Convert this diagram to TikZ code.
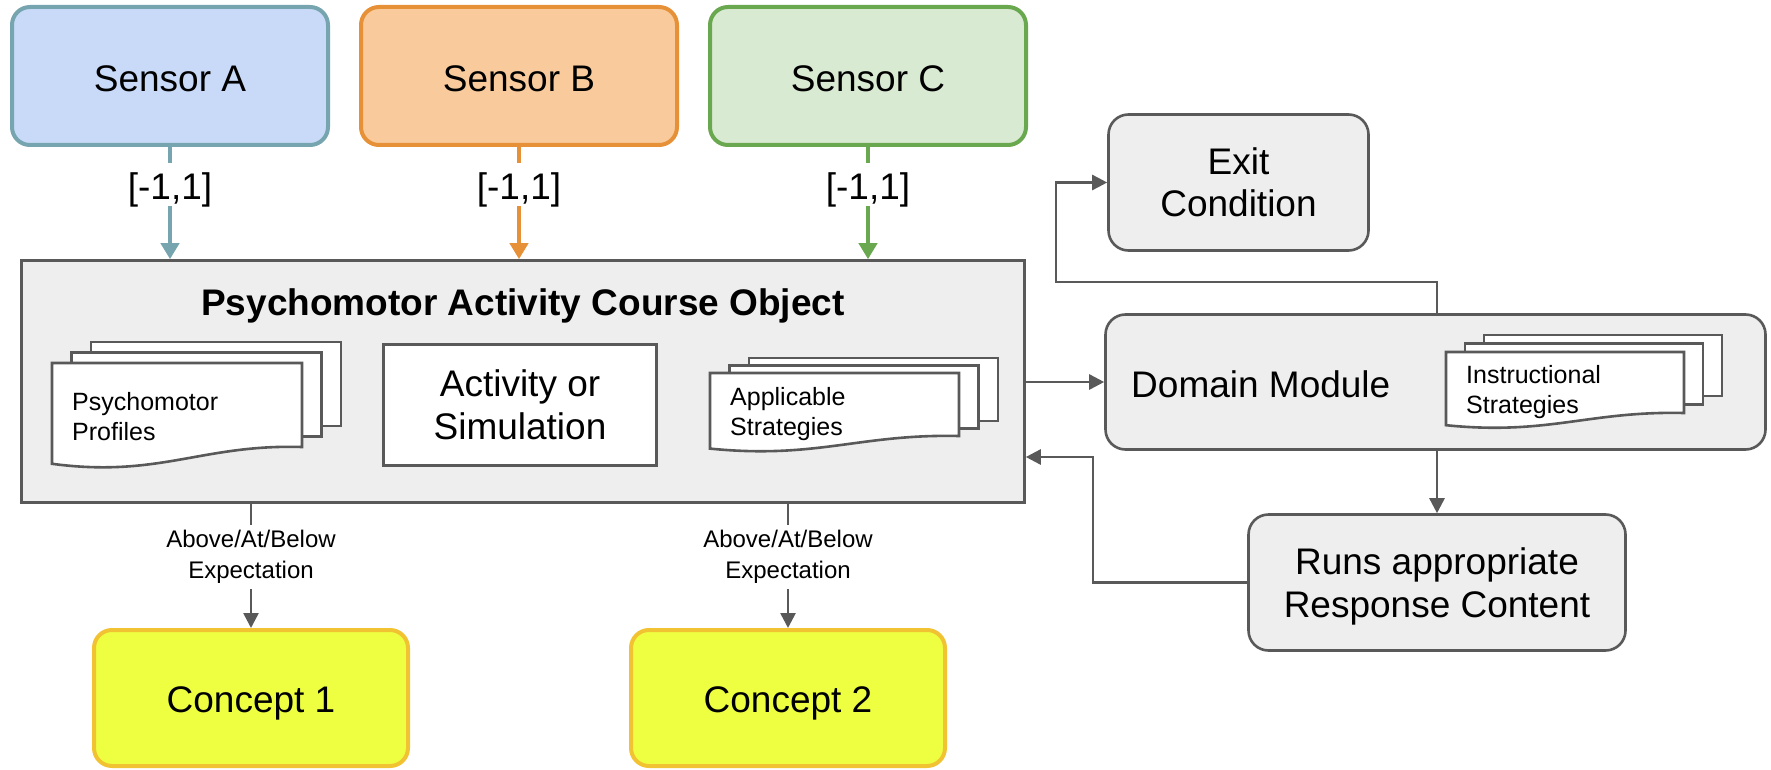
\documentclass[tikz,border=0pt]{standalone}
\usepackage{fontspec}
\setmainfont{Liberation Sans}
\usetikzlibrary{arrows.meta}
\definecolor{sAfill}{HTML}{C9DAF8}
\definecolor{sAline}{HTML}{76A5AF}
\definecolor{sBfill}{HTML}{F9CB9C}
\definecolor{sBline}{HTML}{E69138}
\definecolor{sCfill}{HTML}{D9EAD3}
\definecolor{sCline}{HTML}{6AA84F}
\definecolor{cfill}{HTML}{EEFF41}
\definecolor{cline}{HTML}{F1C232}
\definecolor{gfill}{HTML}{EEEEEE}
\definecolor{gline}{HTML}{595959}
\newcommand\fbig{\fontsize{37}{42.5}\selectfont}
\newcommand\fsmall{\fontsize{25}{30}\selectfont}
\newcommand\flab{\fontsize{24}{31}\selectfont}
% document stack: x0, y0 (front page top-left), w, h, dx, dy
\newcommand\docstack[6]{%
  \draw[docpage] ({#1+2*#5},{#2+2*#6}) rectangle ({#1+2*#5+#3},{#2+2*#6+#4});
  \draw[docpage] ({#1+#5},{#2+#6}) rectangle ({#1+#5+#3},{#2+#6+#4});
  \draw[docpage] (#1,#2) -- ({#1+#3},#2) -- ({#1+#3},{#2+#4})
     .. controls ({#1+0.6*#3},{#2+0.964*#4}) and ({#1+0.43*#3},{#2+1.37*#4}) .. (#1,{#2+1.2*#4}) -- cycle;
}
\tikzset{
  sensor/.style={rounded corners=18pt, line width=4pt, minimum width=316pt, minimum height=138pt, font=\fbig, inner sep=0pt, text height=32pt, text depth=0pt},
  concept/.style={rounded corners=18pt, line width=4pt, fill=cfill, draw=cline, minimum width=314pt, minimum height=136pt, font=\fbig, inner sep=0pt, text height=28pt, text depth=0pt},
  gbox/.style={draw=gline, fill=gfill, line width=2.6pt, inner sep=0pt},
  rbox/.style={gbox, rounded corners=20pt, font=\fbig, align=center},
  wbox/.style={draw=gline, fill=white, line width=2.6pt, inner sep=0pt},
  docpage/.style={draw=gline, fill=white, line width=2.6pt, line join=miter},
  dtext/.style={font=\fsmall, align=left, inner sep=0pt},
  carrow/.style={line width=4pt, -{Triangle[length=16pt,width=18pt]}},
  garrow/.style={draw=gline, line width=2.6pt, -{Triangle[length=15pt,width=15pt]}},
  vlab/.style={fill=white, inner sep=0pt, text height=37pt, text depth=6pt, anchor=base, font=\fbig},
  elab/.style={fill=white, inner xsep=2pt, inner ysep=5pt, font=\flab, align=center},
}
\begin{document}
\begin{tikzpicture}[x=1pt,y=-1pt]
\useasboundingbox (0,0) rectangle (1771,770);

% sensors
\node[sensor, fill=sAfill, draw=sAline] (sA) at (170,76) {Sensor A};
\node[sensor, fill=sBfill, draw=sBline] (sB) at (519,76) {Sensor B};
\node[sensor, fill=sCfill, draw=sCline] (sC) at (868,76) {Sensor C};

% course object
\node[gbox, minimum width=1003pt, minimum height=242pt] (pb) at (523,381.5) {};
\node[font=\fbig\bfseries, anchor=base, inner sep=0pt] (ttl) at (523,315) {Psychomotor Activity Course Object};

\docstack{52}{363}{250}{84}{19.5}{-10.5}
\node[dtext, anchor=base west] (tP) at (72,440) {Psychomotor\\Profiles};

\node[wbox, minimum width=273pt, minimum height=121pt, font=\fbig, align=center] (act) at (520,405) {Activity or\\Simulation};

\docstack{710}{373}{249}{63}{19.5}{-7.5}
\node[dtext, anchor=base west] (tA) at (730,435) {Applicable\\Strategies};

% right side
\node[rbox, minimum width=260pt, minimum height=136pt] (ex) at (1238.5,182.5) {Exit\\Condition};
\node[gbox, rounded corners=20pt, minimum width=660pt, minimum height=135pt] (dm) at (1435.5,382) {};
\node[font=\fbig, anchor=base west, inner sep=0pt] (dmt) at (1131,397) {Domain Module};
\docstack{1446}{352}{238}{61}{19}{-8.5}
\node[dtext, anchor=base west] (tI) at (1466,413) {Instructional\\Strategies};
\node[rbox, minimum width=377pt, minimum height=136pt, text depth=0pt] (ru) at (1437,582.5) {Runs appropriate\\Response Content};

% concepts
\node[concept] (c1) at (251,698) {Concept 1};
\node[concept] (c2) at (788,698) {Concept 2};

% sensor arrows
\draw[carrow, draw=sAline] (sA.south) -- (sA.south |- pb.north);
\draw[carrow, draw=sBline] (sB.south) -- (sB.south |- pb.north);
\draw[carrow, draw=sCline] (sC.south) -- (sC.south |- pb.north);
\node[vlab] (lA) at (170,200) {[-1,1]};
\node[vlab] (lB) at (519,200) {[-1,1]};
\node[vlab] (lC) at (868,200) {[-1,1]};

% expectation arrows
\draw[garrow] (pb.south -| c1.north) -- (c1.north);
\draw[garrow] (pb.south -| c2.north) -- (c2.north);
\node[elab] (e1) at (251,557) {Above/At/Below\\Expectation};
\node[elab] (e2) at (788,557) {Above/At/Below\\Expectation};

% right-side connectors
\coordinate (k1) at (1056,282);
\coordinate (k2) at (1093,457);
\draw[garrow] (pb.east |- dm.west) -- (dm.west);
\draw[garrow] (ru.north |- dm.north) |- (k1) |- (ex.west);
\draw[garrow] (dm.south -| ru.north) -- (ru.north);
\draw[garrow] (ru.west) -| (k2) -- (pb.east |- k2);
\end{tikzpicture}
\end{document}
